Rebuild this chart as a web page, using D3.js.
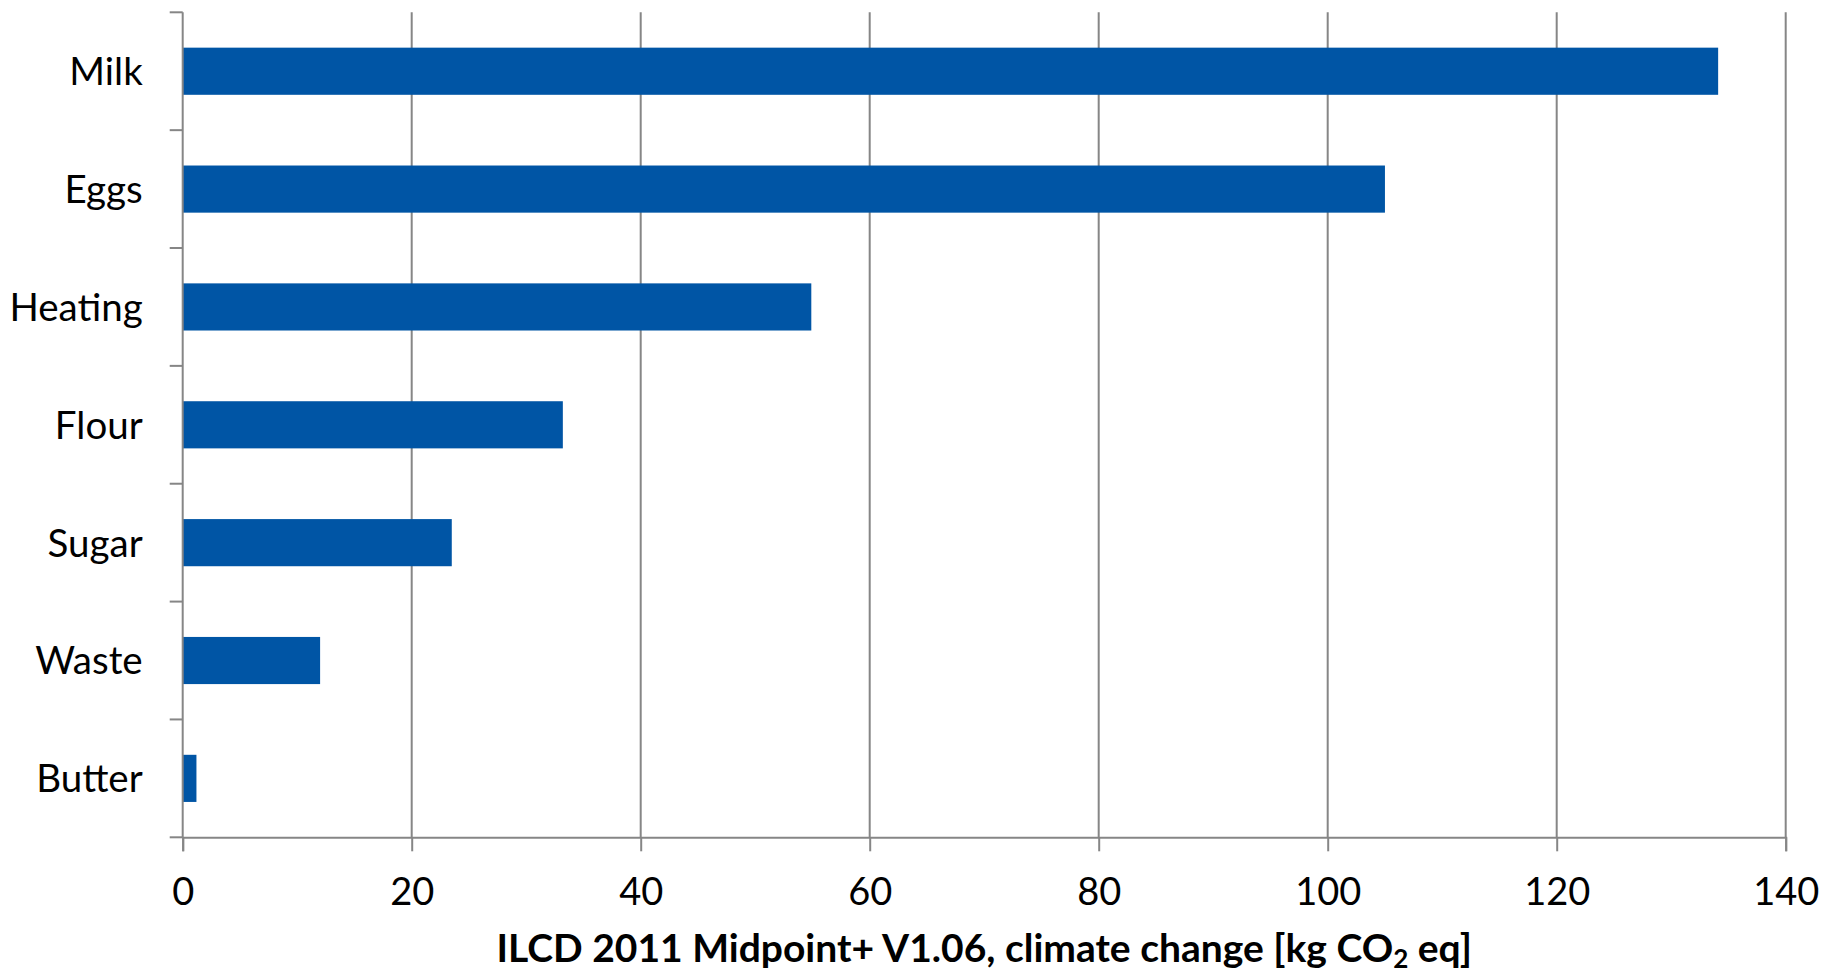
<!DOCTYPE html>
<html>
<head>
<meta charset="utf-8">
<script src="https://cdn.jsdelivr.net/npm/d3@7"></script>
<style>
  html, body { margin: 0; padding: 0; background: #fff; }
  svg { display: block; }
  text { font-family: Lato, "Open Sans", "Liberation Sans", sans-serif; fill: #000; }
</style>
</head>
<body>
<svg id="chart" width="1824" height="975"></svg>
<script>
// Climate change impact per input (kg CO2 eq)
const categories = ["Milk", "Eggs", "Heating", "Flour", "Sugar", "Waste", "Butter"];
const values = [134.1, 105.0, 54.9, 33.2, 23.5, 12.0, 1.2];
const xTicks = [0, 20, 40, 60, 80, 100, 120, 140];

const W = 1824, H = 975;
const margin = { top: 12.3, right: 38.3, bottom: 137.7, left: 182.7 };
const innerW = W - margin.left - margin.right;
const innerH = H - margin.top - margin.bottom;

const axisColor = "#868686";
const barColor = "#0055A5";

const svg = d3.select("#chart");
const g = svg.append("g").attr("transform", `translate(${margin.left},${margin.top})`);

const x = d3.scaleLinear().domain([0, 140]).range([0, innerW]);
const y = d3.scaleBand().domain(categories).range([0, innerH])
  .paddingInner(0.6).paddingOuter(0.3);

// vertical gridlines
g.append("g").selectAll("line")
  .data(xTicks.filter(t => t > 0))
  .join("line")
  .attr("x1", d => x(d)).attr("x2", d => x(d))
  .attr("y1", 0).attr("y2", innerH)
  .attr("stroke", axisColor).attr("stroke-width", 2);

// bars
g.append("g").selectAll("rect")
  .data(categories.map((c, i) => ({ c, v: values[i] })))
  .join("rect")
  .attr("x", x(0))
  .attr("y", d => y(d.c))
  .attr("width", d => x(d.v) - x(0))
  .attr("height", y.bandwidth())
  .attr("fill", barColor);

// x axis
const xAxis = g.append("g")
  .attr("transform", `translate(0,${innerH})`)
  .call(d3.axisBottom(x).tickValues(xTicks).tickSize(14).tickPadding(27).tickFormat(d3.format("d")));
xAxis.select(".domain").attr("stroke", axisColor).attr("stroke-width", 2);
xAxis.selectAll(".tick line").attr("stroke", axisColor).attr("stroke-width", 2);
xAxis.selectAll(".tick text").attr("font-size", 38).attr("font-family", null).attr("fill", "#000");

// y axis: category boundary ticks
const yAxisG = g.append("g");
yAxisG.append("line")
  .attr("x1", 0).attr("x2", 0).attr("y1", 0).attr("y2", innerH)
  .attr("stroke", axisColor).attr("stroke-width", 2);
const boundaries = d3.range(categories.length + 1).map(i => i * y.step());
yAxisG.selectAll(".bt")
  .data(boundaries)
  .join("line")
  .attr("class", "bt")
  .attr("x1", -13).attr("x2", 0)
  .attr("y1", d => d).attr("y2", d => d)
  .attr("stroke", axisColor).attr("stroke-width", 2);
yAxisG.selectAll(".cl")
  .data(categories)
  .join("text")
  .attr("class", "cl")
  .attr("x", -40)
  .attr("y", d => y(d) + y.bandwidth() / 2)
  .attr("dy", "0.36em")
  .attr("text-anchor", "end")
  .attr("font-size", 38.5)
  .text(d => d);

// axis title
const title = svg.append("text")
  .attr("x", margin.left + innerW / 2)
  .attr("y", 962)
  .attr("text-anchor", "middle")
  .attr("font-size", 39)
  .attr("font-weight", "bold");
title.append("tspan").text("ILCD 2011 Midpoint+ V1.06, climate change [kg CO");
title.append("tspan").attr("font-size", 26).attr("dy", 6).text("2");
title.append("tspan").attr("dy", -6).text(" eq]");
</script>
</body>
</html>
